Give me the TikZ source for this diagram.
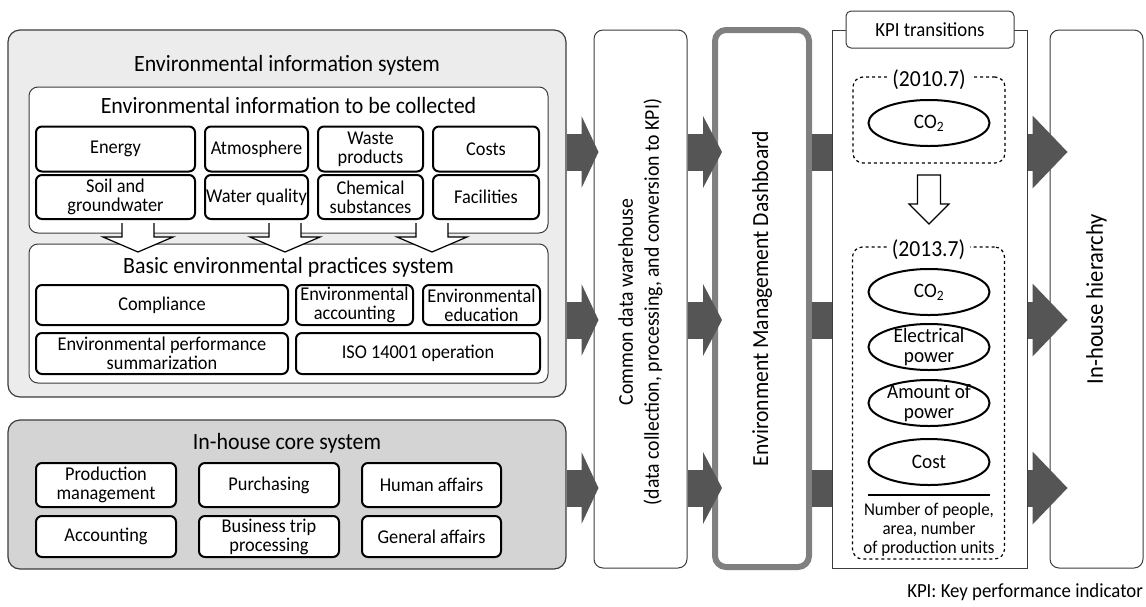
\documentclass[tikz,border=0pt]{standalone}
\usepackage{fontspec}
\setmainfont{Carlito}[FakeStretch=0.94]
\usetikzlibrary{arrows.meta,shapes.geometric,positioning}

\definecolor{envgray}{RGB}{236,236,236}
\definecolor{coregray}{RGB}{212,212,212}
\definecolor{flowgray}{RGB}{85,85,85}
\definecolor{boardgray}{RGB}{128,128,128}
\definecolor{framegray}{RGB}{60,60,60}

\begin{document}
\begin{tikzpicture}[x=1pt, y=-1pt, >=latex]
  % Styles
  \tikzstyle{every node} = [font=\fontsize{19.5}{19}\selectfont, inner sep=0pt]
  \tikzstyle{panel} = [rectangle, draw=framegray, line width=1.2pt, rounded corners=12pt, minimum width=558pt]
  \tikzstyle{group} = [rectangle, draw=framegray, fill=white, line width=1pt, rounded corners=9pt, minimum width=519pt]
  \tikzstyle{item} = [rectangle, draw=black, fill=white, line width=2pt, rounded corners=6pt, align=center]
  \tikzstyle{column} = [rectangle, draw=framegray, fill=white, line width=1pt, rounded corners=9pt, minimum width=93pt, minimum height=538pt]
  \tikzstyle{title} = [font=\fontsize{23.3}{23}\selectfont]
  \tikzstyle{vtext} = [rotate=90, align=center, font=\fontsize{21}{26}\selectfont]
  \tikzstyle{period} = [rectangle, draw=black, dashed, line width=1.2pt, rounded corners=10pt, minimum width=152pt]
  \tikzstyle{stamp} = [fill=white, inner xsep=5pt, font=\fontsize{23}{23}\selectfont]
  \tikzstyle{kpi} = [ellipse, draw=black, fill=white, line width=2pt, minimum width=121pt, minimum height=46pt,
                     inner sep=-12pt, align=center, font=\fontsize{20.5}{19.5}\selectfont]
  \tikzstyle{fat} = [draw=flowgray, line width=37pt]
  \tikzstyle{hollow} = [draw=black, fill=white, line width=1.2pt]

  \useasboundingbox (0,0) rectangle (1146,606);
  \coordinate (lvl1) at (0,152);
  \coordinate (lvl2) at (0,320);
  \coordinate (lvl3) at (0,488);

  % Environmental information system
  \node[panel, fill=envgray, minimum height=367pt] (envsys) at (287,213.5) {};
  \node[title] at (287,65) {Environmental information system};

  \node[group, minimum height=146pt] (collect) at (288.5,160) {};
  \node[title] at (288.5,105) {Environmental information to be collected};
  \node[item, minimum width=159pt, minimum height=45pt] (energy) at (115.5,149) {Energy};
  \node[item, minimum width=103pt, minimum height=45pt] (atmos) at (256.5,149) {Atmosphere};
  \node[item, minimum width=105pt, minimum height=45pt] (waste) at (370.5,149) {Waste\\products};
  \node[item, minimum width=106pt, minimum height=45pt] (costs) at (486,149) {Costs};
  \node[item, minimum width=159pt, minimum height=44pt] (soil) at (115.5,197) {Soil and\\groundwater};
  \node[item, minimum width=103pt, minimum height=44pt] (water) at (256.5,197) {Water quality};
  \node[item, minimum width=105pt, minimum height=44pt] (chem) at (370.5,197) {Chemical\\substances};
  \node[item, minimum width=106pt, minimum height=44pt] (facil) at (486,197) {Facilities};

  \node[group, minimum height=139pt] (practice) at (288.5,313.5) {};
  \node[title] at (288.5,267) {Basic environmental practices system};
  \node[item, minimum width=252pt, minimum height=40pt] (compl) at (162,305) {Compliance};
  \node[item, minimum width=117pt, minimum height=40pt] (acct) at (354.5,305) {Environmental\\accounting};
  \node[item, minimum width=117pt, minimum height=40pt] (educ) at (481.5,305) {Environmental\\education};
  \node[item, minimum width=252pt, minimum height=41pt] (perf) at (162,353.5) {Environmental performance\\summarization};
  \node[item, minimum width=244pt, minimum height=41pt] (iso) at (418,353.5) {ISO 14001 operation};

  % collected data feeds the practices system
  \foreach \hx in {138,285,432}
    \path[hollow] (\hx-16,223) -- (\hx-16,237) -- (\hx-35,237) -- (\hx,252)
      -- (\hx+35,237) -- (\hx+16,237) -- (\hx+16,223);

  % In-house core system
  \node[panel, fill=coregray, minimum height=149pt] (core) at (287,494.5) {};
  \node[title] at (287,443) {In-house core system};
  \node[item, minimum width=140pt, minimum height=44pt] (prod) at (106,485) {Production\\management};
  \node[item, minimum width=140pt, minimum height=44pt] (purch) at (269,485) {Purchasing};
  \node[item, minimum width=139pt, minimum height=44pt] (human) at (431.5,485) {Human affairs};
  \node[item, minimum width=140pt, minimum height=41pt] (acc) at (106,536.5) {Accounting};
  \node[item, minimum width=140pt, minimum height=41pt] (trip) at (269,536.5) {Business trip\\processing};
  \node[item, minimum width=139pt, minimum height=41pt] (general) at (431.5,536.5) {General affairs};

  % Columns
  \node[column] (warehouse) at (640.5,299) {};
  \node[vtext] at ([yshift=-3pt]warehouse) {Common data warehouse\\(data collection, processing, and conversion to KPI)};

  \node[rectangle, draw=boardgray, fill=white, line width=6pt, rounded corners=11pt,
        minimum width=94pt, minimum height=537pt] (board) at (762,298.5) {};
  \node[vtext, font=\fontsize{23}{23}\selectfont] at (board) {Environment Management Dashboard};

  \node[rectangle, draw=framegray, fill=white, line width=1pt, minimum width=195pt,
        minimum height=538pt] (kpibox) at (929.5,299) {};
  \node[rectangle, draw=framegray, fill=white, line width=1pt, rounded corners=5pt,
        minimum width=168pt, minimum height=37pt, font=\fontsize{20}{20}\selectfont] (kpitab) at (930,29.5) {KPI transitions};

  \node[column] (hierarchy) at (1096.5,299) {};
  \node[vtext, font=\fontsize{24}{24}\selectfont] at (hierarchy) {In-house hierarchy};

  % KPI transitions
  \node[period, minimum height=86pt] (before) at (929,120) {};
  \node[stamp] at ([yshift=-3pt]before.north) {(2010.7)};
  \node[kpi] (co2a) at (929,123) {CO\textsubscript{2}};

  \path[hollow] (917.5,175) -- (917.5,204) -- (909,204) -- (929,224)
    -- (949,204) -- (940.5,204) -- (940.5,175) -- cycle;

  \node[period, minimum height=312pt] (after) at (928.5,403) {};
  \node[stamp] at ([yshift=-3pt]after.north) {(2013.7)};
  \node[kpi] (co2b) at (929,292) {CO\textsubscript{2}};
  \node[kpi] (elec) at (929,347) {Electrical\\power};
  \node[kpi] (amount) at (929,403) {Amount of\\power};
  \node[kpi] (cost) at (929,462) {Cost};
  \draw[line width=1.2pt] (868,495) -- (990,495);
  \node[align=center, font=\fontsize{18}{19}\selectfont] (units) at (929,530) {Number of people,\\area, number\\of production units};

  % Arrows
  \foreach \lvl/\src in {lvl1/envsys, lvl2/envsys, lvl3/core} {
    \draw[fat, -{Triangle[length=17pt, width=72pt, line width=0pt]}, shorten >=-5pt]
      (\src.east |- \lvl) -- (warehouse.west |- \lvl);
    \draw[fat, -{Triangle[length=19pt, width=72pt, line width=0pt]}, shorten >=-10pt]
      (warehouse.east |- \lvl) -- (board.west |- \lvl);
    \draw[fat] (board.east |- \lvl) -- (kpibox.west |- \lvl);
    \draw[fat, -{Triangle[length=35pt, width=73pt, line width=0pt]}, shorten >=-18pt]
      (kpibox.east |- \lvl) -- (hierarchy.west |- \lvl);
  }

  \node[anchor=east, font=\fontsize{20}{20}\selectfont] at (1143,592) {KPI: Key performance indicator};
\end{tikzpicture}
\end{document}
